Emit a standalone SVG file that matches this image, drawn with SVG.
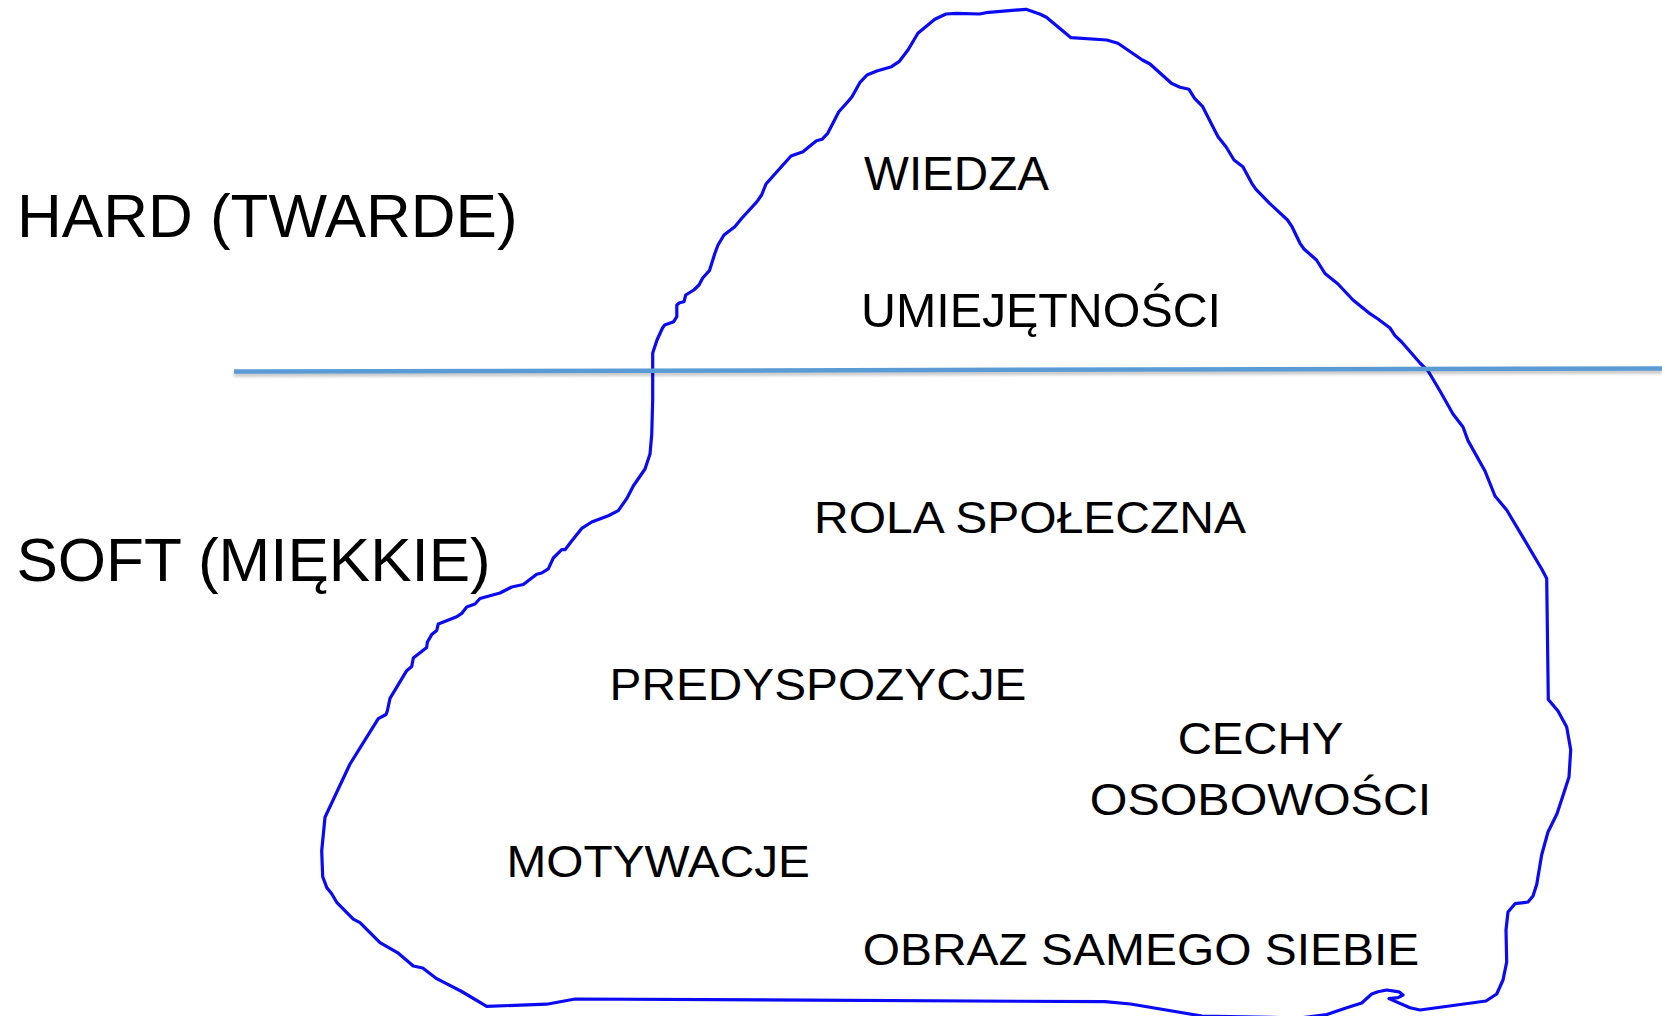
<svg xmlns="http://www.w3.org/2000/svg" width="1662" height="1016" viewBox="0 0 1662 1016">
<defs>
<style>
.lbl{font-family:"Liberation Sans",Arial,Helvetica,sans-serif;fill:#000;}
.big{font-size:62px;}
.mid{font-size:48px;}
.sm{font-size:44px;}
.sm2{font-size:45px;}
.berg{fill:none;stroke:#0a0af5;stroke-width:3.2;stroke-linejoin:round;stroke-linecap:round;}
.water{stroke:#5b9bd5;stroke-width:4.5;fill:none;}
</style>
<filter id="sh" x="-5%" y="-200%" width="110%" height="500%">
<feGaussianBlur stdDeviation="1.5"/>
</filter>
</defs>
<rect width="1662" height="1016" fill="#fff"/>
<g id="labels-side">
<text class="lbl big" x="17" y="237">HARD (TWARDE)</text>
<text class="lbl big" x="16.5" y="581">SOFT (MIĘKKIE)</text>
</g>
<g id="iceberg">
<path class="berg" d="M651.7 435 L652.7 400 L652.7 353 L657 340 L662.5 328 L664.7 325 L673.7 321.7 L676.8 316.7 L676.8 305 L679.5 302.7 L684 301.7 L685.7 295 L693.8 290 L699 285 L702.7 278 L709.4 270.7 L715 253 L718 245 L724 235 L734.8 226.7 L742 218 L757 201.7 L761.6 195 L766 184 L774 175 L791 156 L803 151.7 L809 146.7 L816.5 140.7 L822 139.3 L827.7 133.3 L832 125 L838.8 111.7 L847.8 101.7 L852 96.7 L859.8 82.7 L867 75 L876.8 71 L891.5 66.7 L899 61.7 L908 50 L917.9 33.3 L934.8 19.3 L946 14 L957 13.3 L979.5 14 L986 12.7 L1026 9.3 L1039.7 14 L1046.4 17.3 L1071 37.7 L1106.7 40 L1117.9 43.3 L1142.4 60 L1150 64 L1171.4 83.3 L1180 87.3 L1189 89.3 L1194.6 98.3 L1202.7 106.7 L1218 136.7 L1226 146.7 L1234 160 L1242.9 166.7 L1251.8 183.3 L1256 189.3 L1269.6 203.3 L1287.5 220 L1292 226.7 L1300 243.3 L1304 249 L1316.5 260 L1325 273.5 L1338 284 L1353 300 L1370 313.7 L1378 319 L1390 328 L1395 335.6 L1401.7 342 L1420 363 L1428 370.8 L1440 391 L1453 414 L1463 427 L1468 440.6 L1485 471 L1495 496 L1506.7 510 L1523 537.4 L1541.7 569 L1546.7 578.5 L1548.3 699.5 L1558 711 L1566.7 727 L1570.7 749.8 L1569 777 L1563 795.4 L1557 813.7 L1548 832 L1541.7 854.8 L1536.7 884.5 L1533 896 L1528 902 L1515 903.7 L1508 912 L1506 930 L1506.7 962 L1503 980 L1496.7 994 L1486 1001 L1420 1010 L1410 1007.8 L1389 998.6 L1398 997.7 L1403 995 L1399 991.8 L1386.7 990 L1378 991.8 L1371.7 994 L1361.7 1003 L1346.7 1007.8 L1326.7 1014.6 L1300 1018 L1202 1016 L1130.6 1004 L1105 1001.7 L575 999 L546.7 1004.2 L486.7 1006.3 L461.7 991.5 L436.7 978.7 L422.7 968 L413.3 966 L398.3 953.2 L380 942.6 L360 922.7 L353.3 919.2 L336.7 902.3 L331.7 893.8 L326.7 887.4 L322.7 876.8 L321.7 851 L325 817.3 L350 764 L378.3 718.7 L386 714.5 L387.3 711 L390 698.3 L406.7 670.7 L411.7 666.5 L413.3 658 L426.7 647.4 L427.3 642.3 L431.7 634.6 L436.7 630.4 L438.3 624 L456.7 616.8 L461.7 613.4 L466.7 607 L475 604 L480 598.5 L500 593 L511.7 587 L523.3 584.5 L536.7 574.3 L541.7 573 L548.3 568.8 L553.3 558 L561.7 549.7 L565 549.7 L571.7 541 L581.7 528.4 L591.7 522 L608.3 515.7 L618.3 510.6 L626.7 498.7 L633.3 486 L645 469 L650 454 Z"/>
</g>
<g id="waterline">
<line x1="234" y1="374.5" x2="1662" y2="371.5" stroke="#000" stroke-opacity="0.22" stroke-width="4.5" filter="url(#sh)"/>
<line class="water" x1="234" y1="371.5" x2="1662" y2="368.5"/>
</g>
<g id="labels-inner">
<text class="lbl mid" x="864" y="190" textLength="185" lengthAdjust="spacingAndGlyphs">WIEDZA</text>
<text class="lbl mid" x="861" y="327" textLength="360" lengthAdjust="spacingAndGlyphs">UMIEJĘTNOŚCI</text>
<text class="lbl sm" x="814" y="533" textLength="432" lengthAdjust="spacingAndGlyphs">ROLA SPOŁECZNA</text>
<text class="lbl sm" x="609.5" y="700" textLength="417" lengthAdjust="spacingAndGlyphs">PREDYSPOZYCJE</text>
<text class="lbl sm2" x="1177.7" y="754" textLength="165.5" lengthAdjust="spacingAndGlyphs">CECHY</text>
<text class="lbl sm2" x="1089.8" y="815" textLength="341.5" lengthAdjust="spacingAndGlyphs">OSOBOWOŚCI</text>
<text class="lbl sm" x="506.4" y="877" textLength="303.6" lengthAdjust="spacingAndGlyphs">MOTYWACJE</text>
<text class="lbl sm" x="862.7" y="965" textLength="556.6" lengthAdjust="spacingAndGlyphs">OBRAZ SAMEGO SIEBIE</text>
</g>
</svg>
